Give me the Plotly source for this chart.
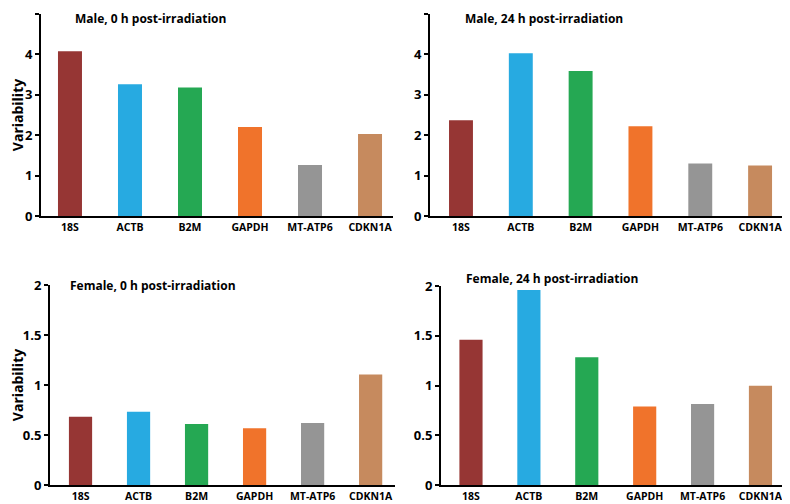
import plotly.graph_objects as go

genes = ["18S", "ACTB", "B2M", "GAPDH", "MT-ATP6", "CDKN1A"]
colors = ["#963634", "#27AAE1", "#25A853", "#F0732B", "#959595", "#C68A5E"]

male_0h = [4.08, 3.26, 3.18, 2.20, 1.26, 2.03]
male_24h = [2.37, 4.03, 3.59, 2.22, 1.30, 1.25]
female_0h = [0.683, 0.733, 0.61, 0.568, 0.62, 1.106]
female_24h = [1.46, 1.96, 1.285, 0.79, 0.815, 0.997]

titles = ["Male, 0 h post-irradiation", "Male, 24 h post-irradiation",
          "Female, 0 h post-irradiation", "Female, 24 h post-irradiation"]
series = [male_0h, male_24h, female_0h, female_24h]

# page body has an 8px margin; figure covers the remaining window area
OFF = 8
W, H = 790 - OFF, 504 - OFF
# pixel boxes in window coords: (x0, x1, ytop, ybottom)
boxes = [(41, 393, 14, 216), (430, 790, 14, 216), (50, 395, 285, 485), (441, 790, 286, 485)]
xranges = [[-0.483, 5.383], [-0.518, 5.50], [-0.526, 5.42], [-0.518, 5.51]]
yranges = [[0, 5], [0, 5], [0, 2], [0, 2]]
ytickvals = [[0, 1, 2, 3, 4, 5], [0, 1, 2, 3, 4, 5], [0, 0.5, 1, 1.5, 2], [0, 0.5, 1, 1.5, 2]]
yticktext = [["0", "1", "2", "3", "4", "5"], ["0", "1", "2", "3", "4", "5"],
             ["0", "0.5", "1", "1.5", "2"], ["0", "0.5", "1", "1.5", "2"]]
# (x, y, yanchor) in window coords
title_pos = [(73, 8, "top"), (463, 8, "top"), (68, 285, "middle"), (464, 278, "middle")]


def fx(px):
    return (px - OFF) / W


def fy(py):
    return 1 - (py - OFF) / H


FONT = "Open Sans"
fig = go.Figure()
layout = {}
for i, (vals, box) in enumerate(zip(series, boxes)):
    n = "" if i == 0 else str(i + 1)
    x0, x1, yt, yb = box
    fig.add_trace(go.Bar(x=genes, y=vals, marker=dict(color=colors, line=dict(width=0)),
                         width=0.4, xaxis="x" + n, yaxis="y" + n, showlegend=False))
    layout["xaxis" + n] = dict(domain=[fx(x0), min(1.0, fx(x1))], range=xranges[i], anchor="y" + n,
                               showline=True, linecolor="black", linewidth=2,
                               ticks="", showgrid=False, zeroline=False, automargin=False,
                               tickfont=dict(family=FONT, size=10.5, color="black", weight="bold"),
                               categoryorder="array", categoryarray=genes, fixedrange=True)
    layout["yaxis" + n] = dict(domain=[fy(yb), fy(yt)], range=yranges[i], anchor="x" + n,
                               showline=True, linecolor="black", linewidth=2,
                               ticks="outside", ticklen=4, tickwidth=2, tickcolor="black",
                               tickvals=ytickvals[i], ticktext=yticktext[i],
                               showgrid=False, zeroline=False, automargin=False,
                               tickfont=dict(family=FONT, size=13, color="black", weight="bold"),
                               fixedrange=True)
    if i in (0, 2):
        layout["yaxis" + n]["title"] = dict(text="Variability", standoff=4,
                                            font=dict(family=FONT, size=14, color="black", weight="bold"))

annotations = []
for t, (px, py, ya) in zip(titles, title_pos):
    annotations.append(dict(text=t, x=fx(px), y=fy(py), xref="paper", yref="paper",
                            xanchor="left", yanchor=ya, showarrow=False,
                            font=dict(family=FONT, size=12, color="black", weight="bold")))

fig.update_layout(**layout)
fig.update_layout(width=W, height=H, margin=dict(l=0, r=0, t=0, b=0),
                  plot_bgcolor="white", paper_bgcolor="white",
                  bargap=0.6, annotations=annotations)

fig.write_html("out.html")
